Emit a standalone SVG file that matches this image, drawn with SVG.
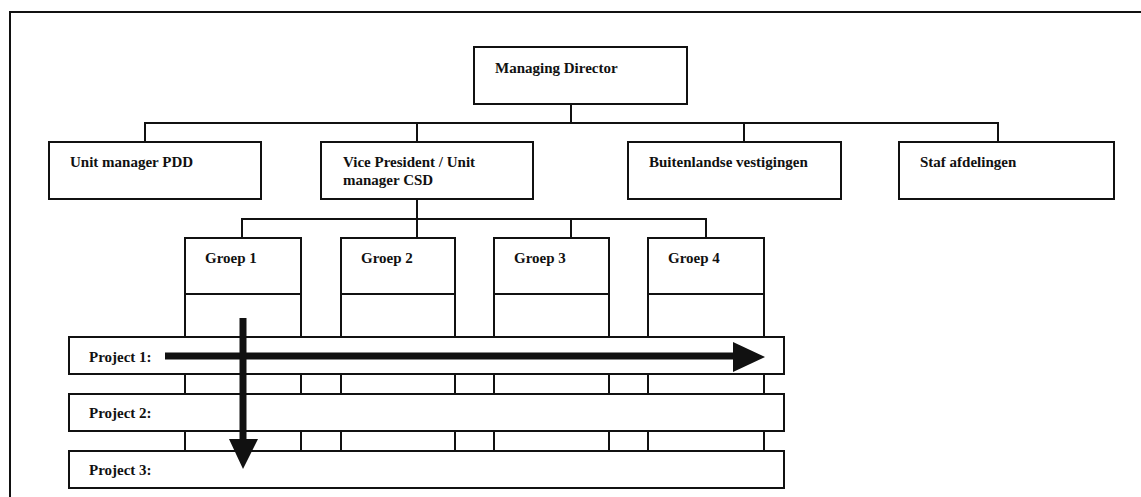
<svg xmlns="http://www.w3.org/2000/svg" width="1141" height="497" viewBox="0 0 1141 497">
  <style>
    .box { fill: #fff; stroke: #111; stroke-width: 2; }
    .ln { fill: none; stroke: #111; stroke-width: 2; }
    .lbl { font-family: "Liberation Serif", "Times New Roman", serif; font-weight: bold; font-size: 15px; fill: #111; }
    .arr { fill: none; stroke: #111; stroke-width: 7; }
  </style>
  <rect width="1141" height="497" fill="#fff"/>

  <!-- outer frame (only top and left edges show) -->
  <path class="ln" d="M10,498 V12 H1142"/>

  <!-- connectors -->
  <g id="connectors">
    <path class="ln" d="M571,104 V123"/>
    <path class="ln" d="M145,142 V123 H998 V142"/>
    <path class="ln" d="M417,123 V142"/>
    <path class="ln" d="M744,123 V142"/>
    <path class="ln" d="M417,199 V238"/>
    <path class="ln" d="M242,238 V219 H706 V238"/>
    <path class="ln" d="M571,219 V238"/>
  </g>

  <!-- top level -->
  <g id="managing-director">
    <rect class="box" x="474" y="47" width="213" height="57"/>
    <text class="lbl" x="495" y="73">Managing Director</text>
  </g>

  <g id="unit-manager-pdd">
    <rect class="box" x="49" y="142" width="212" height="57"/>
    <text class="lbl" x="70" y="167">Unit manager PDD</text>
  </g>
  <g id="vice-president">
    <rect class="box" x="321" y="142" width="212" height="57"/>
    <text class="lbl" x="343" y="167">Vice President / Unit</text>
    <text class="lbl" x="343" y="185">manager CSD</text>
  </g>
  <g id="buitenlandse-vestigingen">
    <rect class="box" x="628" y="142" width="213" height="57"/>
    <text class="lbl" x="649" y="167">Buitenlandse vestigingen</text>
  </g>
  <g id="staf-afdelingen">
    <rect class="box" x="899" y="142" width="215" height="57"/>
    <text class="lbl" x="920" y="167">Staf afdelingen</text>
  </g>

  <!-- group columns: header cell plus column running behind the project bars -->
  <g id="groep-1">
    <rect class="box" x="185" y="238" width="116" height="250"/>
    <line class="ln" x1="185" y1="294" x2="301" y2="294"/>
    <text class="lbl" x="205" y="263">Groep 1</text>
  </g>
  <g id="groep-2">
    <rect class="box" x="341" y="238" width="114" height="250"/>
    <line class="ln" x1="341" y1="294" x2="455" y2="294"/>
    <text class="lbl" x="361" y="263">Groep 2</text>
  </g>
  <g id="groep-3">
    <rect class="box" x="494" y="238" width="115" height="250"/>
    <line class="ln" x1="494" y1="294" x2="609" y2="294"/>
    <text class="lbl" x="514" y="263">Groep 3</text>
  </g>
  <g id="groep-4">
    <rect class="box" x="648" y="238" width="116" height="250"/>
    <line class="ln" x1="648" y1="294" x2="764" y2="294"/>
    <text class="lbl" x="668" y="263">Groep 4</text>
  </g>

  <!-- project bars -->
  <g id="project-1">
    <rect class="box" x="69" y="337" width="715" height="37"/>
    <text class="lbl" x="89" y="362">Project 1:</text>
  </g>
  <g id="project-2">
    <rect class="box" x="69" y="394" width="715" height="37"/>
    <text class="lbl" x="89" y="418">Project 2:</text>
  </g>
  <g id="project-3">
    <rect class="box" x="69" y="451" width="715" height="37"/>
    <text class="lbl" x="89" y="475">Project 3:</text>
  </g>

  <!-- direction arrows -->
  <g id="arrows">
    <line class="arr" x1="165" y1="356" x2="736" y2="356"/>
    <polygon points="733,342 765,357 733,372" fill="#111"/>
    <line class="arr" x1="243" y1="318" x2="243" y2="442"/>
    <polygon points="229,439 258,439 243,469" fill="#111"/>
  </g>
</svg>
